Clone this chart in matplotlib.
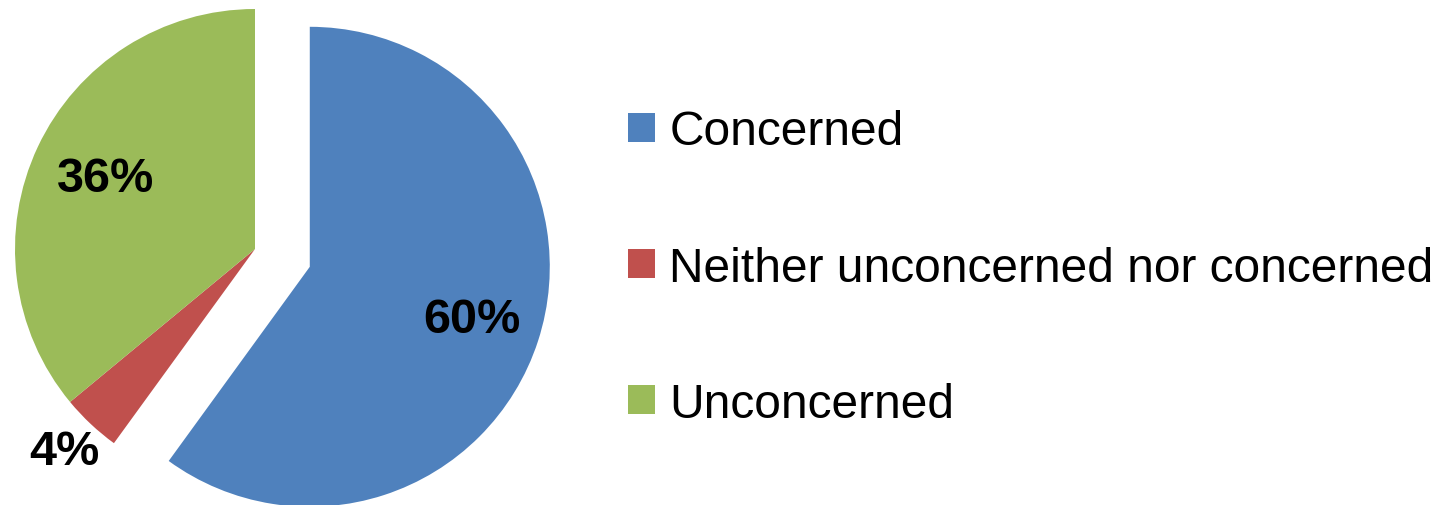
import matplotlib
matplotlib.use('Agg')
import matplotlib.pyplot as plt
import numpy as np

# data
categories = ['Concerned', 'Neither unconcerned nor concerned', 'Unconcerned']
values = [60, 4, 36]
colors = ['#4F81BD', '#C0504D', '#9BBB59']
explode_frac = [0.24, 0, 0]
label_dist = [0.71, 1.16, 0.69]

plt.rcParams['font.family'] = ['Liberation Sans', 'DejaVu Sans']

radius = 240
fig = plt.figure(figsize=(14.47, 5.06), dpi=100)
ax = fig.add_axes([0, 0, 1, 1])

# pie explode is in data units, not radius fractions
explode = [e * radius for e in explode_frac]
wedges, _ = ax.pie(values, colors=colors, explode=explode, startangle=90,
                   counterclock=False, center=(255, 256), radius=radius,
                   wedgeprops=dict(linewidth=0))

# percentage labels
for w, v, d in zip(wedges, values, label_dist):
    th = np.deg2rad((w.theta1 + w.theta2) / 2)
    cx, cy = w.center
    x = cx + d * w.r * np.cos(th)
    y = cy + d * w.r * np.sin(th)
    ax.text(x, y, '{0}%'.format(v), ha='center', va='center',
            fontsize=35, fontweight='bold', color='black')

ax.set_xlim(0, 1447)
ax.set_ylim(0, 506)
ax.set_aspect('equal')
ax.axis('off')

leg = ax.legend(wedges, categories, loc='center left',
                bbox_to_anchor=(628, 237), bbox_transform=ax.transData,
                frameon=False, fontsize=34.5, borderpad=0, borderaxespad=0,
                handlelength=0.56, handleheight=0.56, handletextpad=0.3,
                labelspacing=1.9)

fig.savefig('out.png', dpi=100)
